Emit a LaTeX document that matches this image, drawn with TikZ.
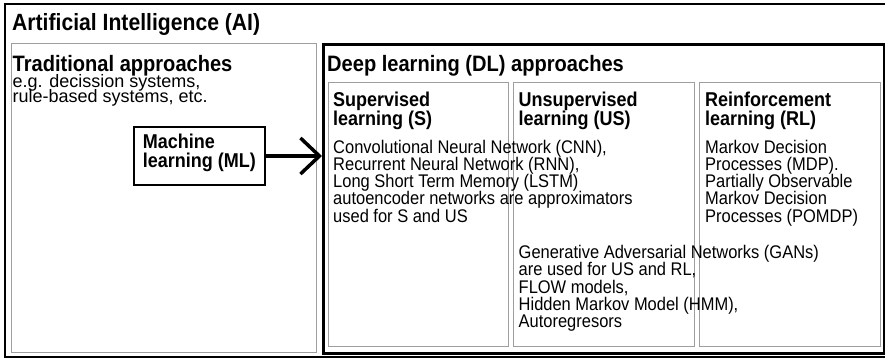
\documentclass[tikz,border=0pt]{standalone}
\usepackage{fontspec}
\setmainfont{Liberation Sans}[FakeStretch=0.9]
\newfontfamily\widesf{Liberation Sans}
\usetikzlibrary{arrows.meta}
\lineskiplimit=-100pt

\begin{document}
\begin{tikzpicture}[x=1pt,y=-1pt,
  graybox/.style 2 args={draw=black!38,line width=1.4pt,rectangle,inner sep=0pt,anchor=north west,minimum width=#1,minimum height=#2},
  blackbox/.style n args={3}{draw=black,line width=#3,rectangle,inner sep=0pt,anchor=north west,minimum width=#1,minimum height=#2},
  txt/.style={anchor=base west,inner sep=0pt,align=left},
  titletext/.style={txt,font=\bfseries\fontsize{23.5}{25}\selectfont},
  secttext/.style={txt,font=\bfseries\fontsize{22.3}{24}\selectfont},
  headtext/.style={txt,font=\bfseries\fontsize{20}{18.3}\selectfont},
  bodytext/.style={txt,font=\fontsize{18.3}{17.2}\selectfont},
  tradtext/.style={txt,font=\widesf\fontsize{18}{15}\selectfont}]
\useasboundingbox (0,0) rectangle (885,357);
\clip (0,0) rectangle (885,357);
% boxes
\node[blackbox={890pt}{353pt}{1.5pt}] (ai) at (4,3) {};
\node[graybox={305pt}{309pt}] (trad) at (11,43) {};
\node[blackbox={561pt}{309pt}{2.5pt}] (dl) at (322,43) {};
\node[graybox={180pt}{264pt}] (sup) at (328,82) {};
\node[graybox={181pt}{264pt}] (unsup) at (513,82) {};
\node[graybox={181pt}{264pt}] (reinf) at (699,82) {};
\node[blackbox={131pt}{58pt}{2pt}] (ml) at (133,126) {};
% labels (multi-line texts sit on their last baseline)
\node[titletext] (aititle) at (12,30) {Artificial Intelligence (AI)};
\node[secttext] (tradtitle) at (12.5,71.7) {Traditional approaches};
\node[tradtext] (tradlist) at (12.5,102) {e.g. decission systems,\\rule-based systems, etc.};
\node[secttext] (dltitle) at (327,71.7) {Deep learning (DL) approaches};
\node[headtext] (mltitle) at (142.7,167) {Machine\\learning (ML)};
\node[headtext] (suptitle) at (333,125) {Supervised\\learning (S)};
\node[headtext] (unsuptitle) at (518.5,125) {Unsupervised\\learning (US)};
\node[headtext] (reinftitle) at (705,125) {Reinforcement\\learning (RL)};
\node[bodytext] (suplist) at (333,222) {Convolutional Neural Network (CNN),\\Recurrent Neural Network (RNN),\\Long Short Term Memory (LSTM)\\autoencoder networks are approximators\\used for S and US};
\node[bodytext] (reinflist) at (705,222) {Markov Decision\\Processes (MDP).\\Partially Observable\\Markov Decision\\Processes (POMDP)};
\node[bodytext] (ganlist) at (518.5,327.5) {Generative Adversarial Networks (GANs)\\are used for US and RL,\\FLOW models,\\Hidden Markov Model (HMM),\\Autoregresors};
% connector
\draw[line width=3.5pt,-{Straight Barb[length=19pt,width=36pt]}] (ml.east) -- (ml.east -| dl.west);
\end{tikzpicture}
\end{document}
